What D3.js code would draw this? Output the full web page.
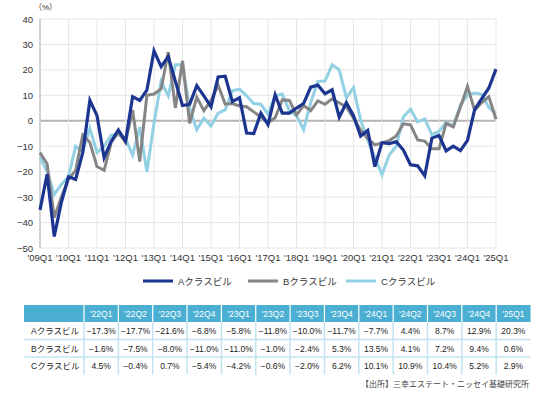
<!DOCTYPE html>
<html><head><meta charset="utf-8">
<script src="https://cdn.jsdelivr.net/npm/d3@7"></script>
<style>
body{margin:0;background:#fff;}
svg{display:block;font-family:"Liberation Sans","Noto Sans CJK JP",sans-serif;}
</style></head><body>
<svg id="c" width="536" height="393"></svg>
<script>
const yearLabels = ["'09Q1","'10Q1","'11Q1","'12Q1","'13Q1","'14Q1","'15Q1","'16Q1","'17Q1","'18Q1","'19Q1","'20Q1","'21Q1","'22Q1","'23Q1","'24Q1","'25Q1"];
const yTicks = [40,30,20,10,0,-10,-20,-30,-40,-50];
const seriesNames = ["Aクラスビル","Bクラスビル","Cクラスビル"];
const seriesA = [-35,-21,-45.5,-32,-22,-23,-12.5,8,2,-14.5,-8,-3.6,-8,9.5,8,12,27.5,21.3,25.2,15.5,6,6.5,13.8,9.8,5.5,17.2,17.5,7.5,9.1,-4.8,-5,3,-1.5,10.2,3,3,5,6.8,13.2,14,10.6,12.2,1.4,7.1,2,-6,-3.8,-18,-8.6,-9,-8.2,-11.5,-17.3,-17.7,-21.6,-6.8,-5.8,-11.8,-10.0,-11.7,-7.7,4.4,8.7,12.9,20.3];
const seriesB = [-12.5,-17,-38,-30,-23,-19.5,-5.6,-8.5,-18,-19.5,-8.5,-4.5,-8.5,4.2,-16,10,10.5,12.5,27,5,23.5,-1,9.3,4,8,14,6.5,6.8,5.8,5.5,3.5,1.5,-0.8,1.2,8.2,8,2.3,6,4,7.8,6.5,8.6,7,5.5,1,-3.6,-7,-9.5,-8.7,-7.8,-6,-1.2,-1.6,-7.5,-8.0,-11.0,-11.0,-1.0,-2.4,5.3,13.5,4.1,7.2,9.4,0.6];
const seriesC = [-14.5,-20,-29,-25,-22,-10,-12,-3,-12.5,-10,-5.6,-5.5,-7,-13.5,-2.5,-20,-1,15.5,9.8,22,22,5,-3.5,1,-2,3,4.3,11.8,12.4,9.8,6.8,6.5,2.5,9.8,10.5,4,2,-3.5,7.2,15.5,15.6,22,20,9,13,0.3,-7.5,-14.5,-21.2,-13.5,-10,1.5,4.5,-0.4,0.7,-5.4,-4.2,-0.6,-2.0,6.2,10.1,10.9,10.4,5.2,2.9];
const tableCols = ["'22Q1","'22Q2","'22Q3","'22Q4","'23Q1","'23Q2","'23Q3","'23Q4","'24Q1","'24Q2","'24Q3","'24Q4","'25Q1"];
const tableA = ["−17.3%","−17.7%","−21.6%","−6.8%","−5.8%","−11.8%","−10.0%","−11.7%","−7.7%","4.4%","8.7%","12.9%","20.3%"];
const tableB = ["−1.6%","−7.5%","−8.0%","−11.0%","−11.0%","−1.0%","−2.4%","5.3%","13.5%","4.1%","7.2%","9.4%","0.6%"];
const tableC = ["4.5%","−0.4%","0.7%","−5.4%","−4.2%","−0.6%","−2.0%","6.2%","10.1%","10.9%","10.4%","5.2%","2.9%"];
const colors = ["#1b3591","#858585","#92d0e3"];
const sourceText = "【出所】三幸エステート・ニッセイ基礎研究所";

const svg = d3.select("#c");
const L=40,R=496,T=19,B=248;
const x = d3.scaleLinear().domain([0,64]).range([L,R]);
const y = d3.scaleLinear().domain([-50,40]).range([B,T]);
const fmt = v => v<0 ? "−"+Math.abs(v) : String(v);

// grid
svg.append("g").selectAll("line").data(yTicks).join("line")
  .attr("x1",L).attr("x2",R).attr("y1",d=>y(d)).attr("y2",d=>y(d))
  .attr("stroke",d=>d===0?"#b5b5b5":"#e6e6e6").attr("stroke-width",d=>d===0?2:1);
svg.append("g").selectAll("line").data(yearLabels).join("line")
  .attr("x1",(d,i)=>x(i*4)).attr("x2",(d,i)=>x(i*4)).attr("y1",T).attr("y2",B)
  .attr("stroke","#e6e6e6").attr("stroke-width",1);
svg.append("line").attr("x1",L).attr("x2",L).attr("y1",T).attr("y2",B).attr("stroke","#c8c8c8").attr("stroke-width",1.5);

// y labels
svg.append("g").selectAll("text").data(yTicks).join("text")
  .attr("x",33).attr("y",d=>y(d)+3.5).attr("text-anchor","end")
  .attr("font-size",9.5).attr("fill","#333").text(fmt);
svg.append("text").attr("x",34).attr("y",10).attr("font-size",8).attr("fill","#333").text("（%）");
// x labels
svg.append("g").selectAll("text").data(yearLabels).join("text")
  .attr("x",(d,i)=>x(i*4)).attr("y",261).attr("text-anchor","middle")
  .attr("font-size",9.5).attr("fill","#333").text(d=>d);

// lines
const line = d3.line().x((d,i)=>x(i)).y(d=>y(d)).curve(d3.curveLinear);
[[seriesC,2],[seriesB,1],[seriesA,0]].forEach(([s,k])=>{
  svg.append("path").datum(s).attr("d",line).attr("fill","none")
    .attr("stroke",colors[k]).attr("stroke-width",k===0?3.2:3).attr("stroke-linejoin","miter");
});

// legend
const lg = [[143,178],[248,283],[346,381]];
seriesNames.forEach((n,k)=>{
  svg.append("line").attr("x1",lg[k][0]).attr("x2",lg[k][0]+30).attr("y1",281).attr("y2",281)
    .attr("stroke",colors[k]).attr("stroke-width",3);
  svg.append("text").attr("x",lg[k][1]).attr("y",284.5).attr("font-size",9.5).attr("fill","#333").text(n);
});

// table
const tx0=24, tx1=84, cw=34.35, hy=305, hh=17, rh=17.5;
const tg = svg.append("g");
tg.append("rect").attr("x",tx0).attr("y",hy).attr("width",tx1+cw*13-tx0).attr("height",hh).attr("fill","#4bafd4");
tableCols.forEach((c,j)=>{
  tg.append("text").attr("x",tx1+cw*j+cw/2).attr("y",hy+12).attr("text-anchor","middle")
    .attr("font-size",8.5).attr("fill","#fff").text(c);
});
const rows=[tableA,tableB,tableC];
rows.forEach((r,ri)=>{
  const ry = hy+hh+ri*rh;
  tg.append("text").attr("x",31).attr("y",ry+12).attr("font-size",8.5).attr("fill","#222").text(seriesNames[ri]);
  r.forEach((v,j)=>{
    tg.append("text").attr("x",tx1+cw*j+cw/2).attr("y",ry+12).attr("text-anchor","middle")
      .attr("font-size",8.5).attr("fill","#222").text(v);
  });
  if(ri<2) tg.append("line").attr("x1",tx0).attr("x2",tx1+cw*13).attr("y1",ry+rh).attr("y2",ry+rh)
    .attr("stroke","#c2e4f0").attr("stroke-width",1.5);
});
for(let j=0;j<13;j++){
  const xx = tx1+cw*j;
  tg.append("line").attr("x1",xx).attr("x2",xx).attr("y1",hy).attr("y2",hy+hh).attr("stroke","#fff").attr("stroke-width",1.2);
  tg.append("line").attr("x1",xx).attr("x2",xx).attr("y1",hy+hh).attr("y2",hy+hh+3*rh).attr("stroke","#c2e4f0").attr("stroke-width",1.5);
}
svg.append("text").attr("x",529).attr("y",387).attr("text-anchor","end").attr("font-size",8).attr("fill","#444").text(sourceText);
</script></body></html>
